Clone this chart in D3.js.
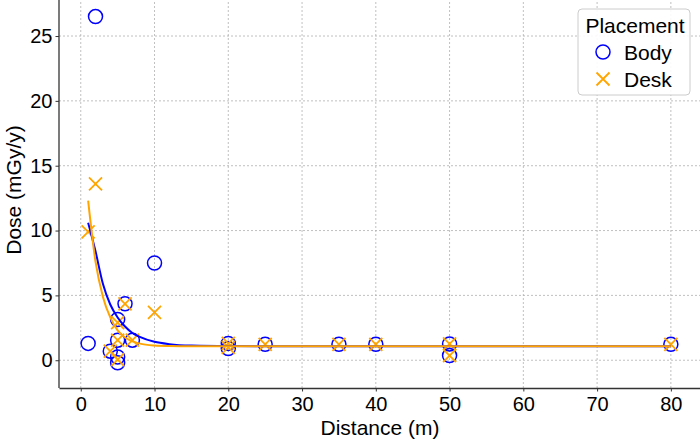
<!DOCTYPE html>
<html>
<head>
<meta charset="utf-8">
<script src="https://cdn.jsdelivr.net/npm/d3@7"></script>
<style>
  body { margin: 0; background: #fff; }
  svg { display: block; font-family: "Liberation Sans", Arial, sans-serif; }
</style>
</head>
<body>
<div id="chart"></div>
<script>
// measured points, Body placement
var bodyDist = [1, 2, 4, 5, 5, 5, 5, 6, 7, 10, 20, 20, 25, 35, 40, 50, 50, 80];
var bodyDose = [1.3, 26.5, 0.7, 3.15, 1.55, 0.25, -0.2, 4.35, 1.55, 7.5, 1.3, 0.9, 1.23, 1.23, 1.23, 1.26, 0.36, 1.23];

// measured points, Desk placement
var deskDist = [1, 2, 4, 5, 5, 5, 6, 7, 10, 20, 20, 25, 35, 40, 50, 50, 80];
var deskDose = [9.9, 13.6, 0.7, 2.9, 1.55, 0.05, 4.35, 1.55, 3.7, 1.3, 1.0, 1.23, 1.23, 1.23, 1.26, 0.36, 1.23];

// fitted curves
var bodyFitX = [1, 2, 3, 4, 5, 6, 7, 8, 10, 12, 15, 20, 30, 80];
var bodyFitY = [10.6, 8.4, 5.9, 4.3, 3.3, 2.6, 2.1, 1.8, 1.42, 1.24, 1.13, 1.09, 1.08, 1.08];
var deskFitX = [1, 2, 3, 4, 5, 6, 7, 8, 10, 12, 15, 20, 80];
var deskFitY = [12.3, 7.6, 4.9, 3.3, 2.3, 1.75, 1.45, 1.28, 1.14, 1.1, 1.08, 1.08, 1.08];

var xTicks = [0, 10, 20, 30, 40, 50, 60, 70, 80];
var yTicks = [0, 5, 10, 15, 20, 25];
var seriesNames = ["Body", "Desk"];

var blue = "#0000ff", orange = "#ffa500";

var svg = d3.select("#chart").append("svg")
    .attr("width", 700)
    .attr("height", 440);

var plotLeft = 59, plotRight = 700, plotTop = -0.8, plotBottom = 388;

var x = d3.scaleLinear().domain([-2.95, 83.95]).range([plotLeft, plotRight]);
var y = d3.scaleLinear().domain([-2.14, 27.84]).range([plotBottom, plotTop]);

// grid
var grid = svg.append("g").attr("class", "grid");
grid.selectAll("line.v")
    .data(xTicks)
    .enter().append("line")
    .attr("class", "v")
    .attr("x1", function(d) { return x(d); })
    .attr("x2", function(d) { return x(d); })
    .attr("y1", plotBottom)
    .attr("y2", 0);
grid.selectAll("line.h")
    .data(yTicks)
    .enter().append("line")
    .attr("class", "h")
    .attr("x1", plotLeft)
    .attr("x2", plotRight)
    .attr("y1", function(d) { return y(d); })
    .attr("y2", function(d) { return y(d); });
grid.selectAll("line")
    .attr("stroke", "#b0b0b0")
    .attr("stroke-width", 0.8)
    .attr("stroke-dasharray", "2,2");

// axes
var xAxis = svg.append("g")
    .attr("transform", "translate(0," + plotBottom + ")")
    .call(d3.axisBottom(x).tickValues(xTicks).tickSize(3.5).tickPadding(5).tickSizeOuter(0));
var yAxis = svg.append("g")
    .attr("transform", "translate(" + plotLeft + ",0)")
    .call(d3.axisLeft(y).tickValues(yTicks).tickSize(3.5).tickPadding(3).tickSizeOuter(0));

[xAxis, yAxis].forEach(function(a) {
    a.select(".domain").attr("stroke", "#333").attr("stroke-width", 1.3);
    a.selectAll(".tick line").attr("stroke", "#333").attr("stroke-width", 1);
    a.selectAll(".tick text").attr("fill", "#000").style("font-size", "20px");
});
yAxis.select(".domain").attr("d", "M0," + plotBottom + "V0");

svg.append("text")
    .attr("x", 380)
    .attr("y", 435)
    .attr("text-anchor", "middle")
    .style("font-size", "21px")
    .text("Distance (m)");

svg.append("text")
    .attr("transform", "translate(21,190) rotate(-90)")
    .attr("text-anchor", "middle")
    .style("font-size", "21px")
    .text("Dose (mGy/y)");

var plot = svg.append("g");

function xMark(sel, size) {
    sel.attr("d", "M" + (-size) + "," + (-size) + "L" + size + "," + size +
                  "M" + (-size) + "," + size + "L" + size + "," + (-size));
}

// body circles
plot.selectAll("circle.body")
    .data(d3.zip(bodyDist, bodyDose))
    .enter().append("circle")
    .attr("class", "body")
    .attr("cx", function(d) { return x(d[0]); })
    .attr("cy", function(d) { return y(d[1]); })
    .attr("r", 7)
    .attr("fill", "none")
    .attr("stroke", blue)
    .attr("stroke-width", 1.5);

// desk crosses
plot.selectAll("path.desk")
    .data(d3.zip(deskDist, deskDose))
    .enter().append("path")
    .attr("class", "desk")
    .attr("transform", function(d) { return "translate(" + x(d[0]) + "," + y(d[1]) + ")"; })
    .call(xMark, 6.5)
    .attr("fill", "none")
    .attr("stroke", orange)
    .attr("stroke-width", 1.8);

var line = d3.line()
    .x(function(d) { return x(d[0]); })
    .y(function(d) { return y(d[1]); })
    .curve(d3.curveMonotoneX);

plot.append("path")
    .datum(d3.zip(bodyFitX, bodyFitY))
    .attr("d", line)
    .attr("fill", "none")
    .attr("stroke", blue)
    .attr("stroke-width", 2);

plot.append("path")
    .datum(d3.zip(deskFitX, deskFitY))
    .attr("d", line)
    .attr("fill", "none")
    .attr("stroke", orange)
    .attr("stroke-width", 2);

// legend
var legend = svg.append("g").attr("transform", "translate(578,9)");
legend.append("rect")
    .attr("width", 112)
    .attr("height", 86)
    .attr("rx", 4)
    .attr("fill", "#fff")
    .attr("fill-opacity", 0.9)
    .attr("stroke", "#cccccc")
    .attr("stroke-width", 1);
legend.append("text")
    .attr("x", 57)
    .attr("y", 24)
    .attr("text-anchor", "middle")
    .style("font-size", "21px")
    .text("Placement");

var entries = legend.selectAll("g.entry")
    .data(seriesNames)
    .enter().append("g")
    .attr("class", "entry")
    .attr("transform", function(d, i) { return "translate(0," + (43 + i * 27) + ")"; });
entries.append("text")
    .attr("x", 46)
    .attr("y", 8)
    .style("font-size", "21px")
    .text(function(d) { return d; });
entries.filter(function(d) { return d == "Body"; })
    .append("circle")
    .attr("cx", 25)
    .attr("r", 7)
    .attr("fill", "none")
    .attr("stroke", blue)
    .attr("stroke-width", 1.5);
entries.filter(function(d) { return d == "Desk"; })
    .append("path")
    .attr("transform", "translate(25,0)")
    .call(xMark, 6.5)
    .attr("fill", "none")
    .attr("stroke", orange)
    .attr("stroke-width", 1.8);
</script>
</body>
</html>
